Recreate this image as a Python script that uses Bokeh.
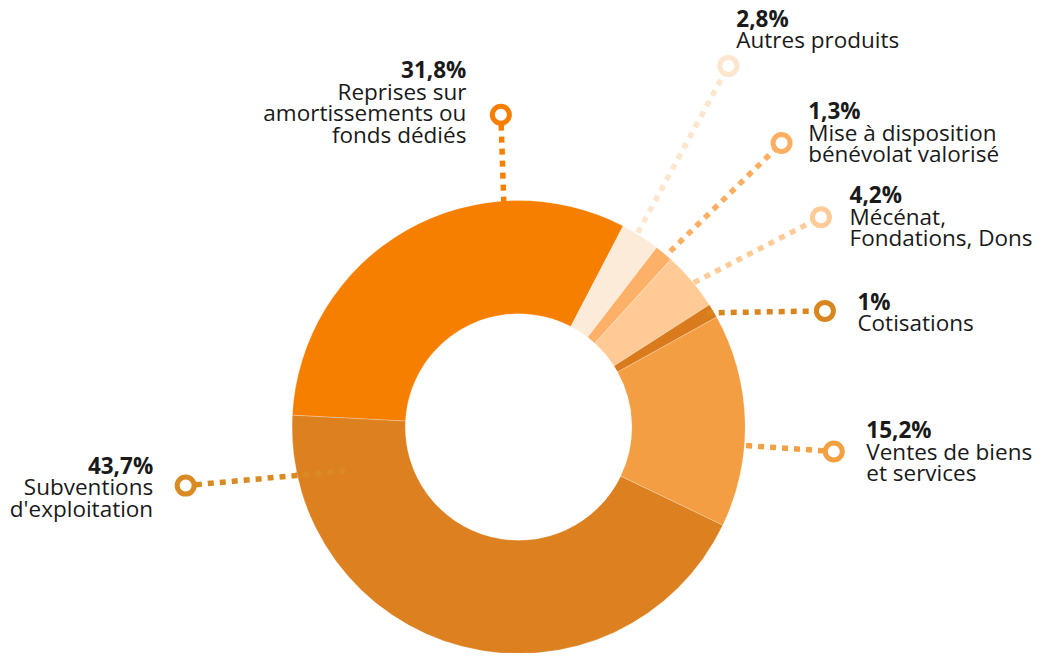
from bokeh.plotting import figure
from bokeh.models import Range1d, ColumnDataSource
from bokeh.embed import file_html
from bokeh.resources import INLINE
from bokeh.core.properties import value
import math

# ---- data ----
categories = [
    "Reprises sur\namortissements ou\nfonds dédiés",
    "Autres produits",
    "Mise à disposition\nbénévolat valorisé",
    "Mécénat,\nFondations, Dons",
    "Cotisations",
    "Ventes de biens\net services",
    "Subventions\nd'exploitation",
]
values = [31.8, 2.8, 1.3, 4.2, 1.0, 15.2, 43.7]
pct_labels = ["31,8%", "2,8%", "1,3%", "4,2%", "1%", "15,2%", "43,7%"]

# ---- styles ----
slice_colors = ["#F77F00", "#FDEBDA", "#FDB067", "#FFCA96", "#D97B1C", "#F39E42", "#DD8120"]
leader_colors = ["#F77F00", "#FDE6CE", "#FDAE62", "#FFCB98", "#D9861F", "#F3A043", "#D98A22"]
FONT = "Open Sans"
FONT_SIZE = "22.5px"
TEXT_COLOR = "#1a1a1a"

# ---- layout (reference pixel frame 1064 x 669) ----
REF_W, REF_H = 1064, 669
CX, CY = 526, 437
R_IN, R_OUT = 115, 230
START_ANGLE = 177.0
marker_xy = [(508, 117), (739, 67), (793, 146), (833, 222), (837, 318), (846, 462), (188, 497)]
leader_start = [(511, 207), (647, 238), (680, 257), (704, 289), (717, 320), (757, 456), (350, 482)]
text_anchor = [(473, 78, "right"), (747, 25, "left"), (820, 120, "left"), (862, 206, "left"),
               (870, 315, "left"), (879, 447, "left"), (155, 483, "right")]
LINE_H = 22
TEXT_DY = -7
W, H = 1048, 653

p = figure(width=W, height=H, output_backend="svg", toolbar_location=None,
           x_range=Range1d(0, REF_W), y_range=Range1d(-REF_H, 0),
           min_border=0)
p.axis.visible = False
p.grid.visible = False
p.outline_line_color = None
p.background_fill_color = "white"
p.border_fill_color = "white"

# wedges (clockwise from START_ANGLE)
total = sum(values)
starts, ends = [], []
a = START_ANGLE
for v in values:
    b = a - v / total * 360.0
    starts.append(math.radians(b))
    ends.append(math.radians(a))
    a = b
src = ColumnDataSource(dict(start=starts, end=ends, color=slice_colors))
p.annular_wedge(x=CX, y=-CY, inner_radius=R_IN, outer_radius=R_OUT,
                start_angle="start", end_angle="end", fill_color="color",
                line_color="white", line_width=0.4, line_alpha=0.6, source=src)

# leader lines
p.segment(x0=[s[0] for s in leader_start], y0=[-s[1] for s in leader_start],
          x1=[m[0] for m in marker_xy], y1=[-m[1] for m in marker_xy],
          line_color=leader_colors, line_width=5.5, line_dash="6 6", line_cap="butt")
p.scatter(x=[m[0] for m in marker_xy], y=[-m[1] for m in marker_xy], size=17,
          fill_color="white", line_color=leader_colors, line_width=5)

# labels
bx, by, bt, ba = [], [], [], []
nx, ny, nt, na = [], [], [], []
for i, (tx, ty, al) in enumerate(text_anchor):
    ty = ty + TEXT_DY
    bx.append(tx); by.append(-ty); bt.append(pct_labels[i]); ba.append(al)
    for j, line in enumerate(categories[i].split("\n")):
        nx.append(tx); ny.append(-(ty + LINE_H * (j + 1))); nt.append(line); na.append(al)

p.text(x="x", y="y", text="t", text_align="a",
       source=ColumnDataSource(dict(x=bx, y=by, t=bt, a=ba)),
       text_font=value(FONT), text_font_size=FONT_SIZE, text_font_style="bold",
       text_color=TEXT_COLOR, text_baseline="alphabetic")
p.text(x="x", y="y", text="t", text_align="a",
       source=ColumnDataSource(dict(x=nx, y=ny, t=nt, a=na)),
       text_font=value(FONT), text_font_size=FONT_SIZE,
       text_color=TEXT_COLOR, text_baseline="alphabetic")

open("out.html", "w").write(file_html(p, INLINE))
